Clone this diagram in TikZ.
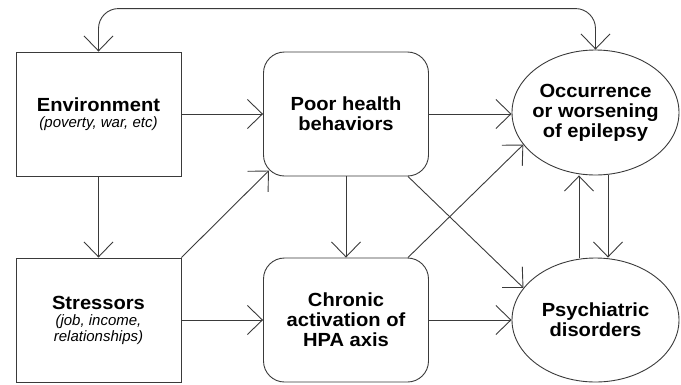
\documentclass[tikz,border=0pt]{standalone}
\usepackage{fontspec}
\setmainfont{Liberation Sans}
\newfontfamily\boldfont[FakeStretch=1.06]{Liberation Sans Bold}
\newfontfamily\italfont{Liberation Sans Italic}
\usetikzlibrary{arrows.meta,shapes.geometric}
\definecolor{ln}{HTML}{3a3a3a}
\newcommand\subtxt[1]{{\italfont\fontsize{15}{16}\selectfont #1}}
\tikzset{
  txt/.style={align=center, inner sep=0pt, font=\boldfont\fontsize{19}{20}\selectfont},
  box/.style={txt, draw=ln, line width=0.9pt, minimum width=165pt, minimum height=124pt},
  rbox/.style={box, rounded corners=21pt},
  ell/.style={draw=ln, line width=0.9pt, ellipse, inner sep=0pt, minimum width=167pt, minimum height=125pt},
  arr/.style={draw=ln, line width=0.9pt, -{Straight Barb[length=15pt,width=29pt]}},
  dbl/.style={draw=ln, line width=0.9pt, {Straight Barb[length=15pt,width=29pt]}-{Straight Barb[length=15pt,width=29pt]}},
}
\begin{document}
\begin{tikzpicture}[x=1pt,y=-1pt]
\useasboundingbox (0,0) rectangle (681,384);
\node[box] (env) at (98.5,114) {Environment\\[-4pt]\subtxt{(poverty, war, etc)}};
\node[box] (str) at (98.5,320) {Stressors\\[-4pt]\subtxt{(job, income,}\\[-4pt]\subtxt{relationships)}};
\node[rbox] (poor) at (346,114) {Poor health\\behaviors};
\node[rbox] (chr) at (346,320) {Chronic\\activation of\\HPA axis};
\node[ell, label={[txt]center:Occurrence\\or worsening\\of epilepsy}] (occ) at (595.5,112.5) {};
\node[ell, minimum height=124pt, label={[txt]center:Psychiatric\\disorders}] (psy) at (595.5,320) {};

\draw[arr] (env) -- (poor);
\draw[arr] (env) -- (str);
\draw[arr] (str) -- (chr);
\draw[arr] (poor) -- (chr);
\draw[arr] (poor.east) -- (poor.east -| occ.west);
\draw[arr] (chr.east) -- (chr.east -| psy.west);
\draw[arr] (str.north east) -- ([shift={(5.9pt,5.9pt)}]poor.south west);
\draw[arr] ([xshift=-21pt]poor.south east) -- (psy.156);
\draw[arr] ([xshift=-21pt]chr.north east) -- (occ.204);
\draw[arr] ([xshift=-16.5pt]psy.north) -- ([xshift=-16.5pt]occ.south);
\draw[arr] ([xshift=12.5pt]occ.south) -- ([xshift=12.5pt]psy.north);
\draw[dbl, rounded corners=20pt] (env.north) -- ++(0,-43) -| (occ.north);
\end{tikzpicture}
\end{document}
